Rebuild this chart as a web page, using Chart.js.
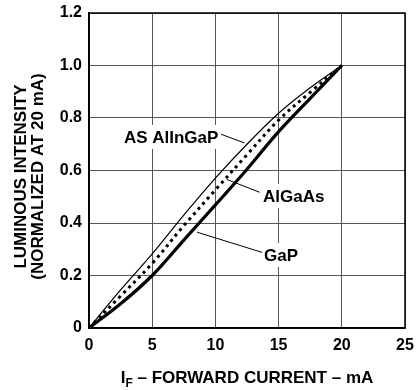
<!DOCTYPE html>
<html>
<head>
<meta charset="utf-8">
<script src="https://cdn.jsdelivr.net/npm/chart.js@4.4.1/dist/chart.umd.min.js"></script>
<style>
  html, body { margin: 0; padding: 0; background: #fff; overflow: hidden; }
  #wrap { width: 417px; height: 390px; }
</style>
</head>
<body>
<div id="wrap"><canvas id="chart"></canvas></div>
<script>
// forward current (mA) and normalized luminous intensity
const currentMa = [0, 2.5, 5, 7.5, 10, 12.5, 15, 17.5, 20];
const gapValues = [0, 0.092, 0.2, 0.335, 0.469, 0.605, 0.748, 0.875, 1.0];
const alingapValues = [0, 0.145, 0.282, 0.43, 0.571, 0.70, 0.818, 0.915, 1.0];
const algaasValues = [0, 0.122, 0.246, 0.39, 0.526, 0.66, 0.792, 0.898, 1.0];

const xTicks = [0, 5, 10, 15, 20, 25];
const yTicks = [0, 0.2, 0.4, 0.6, 0.8, 1.0, 1.2];

const FONT = '"Liberation Sans", Arial, Helvetica, sans-serif';

// callout text, where it sits and its leader line (data coords)
const callouts = [
    { text: 'AS AlInGaP', at: [6.5, 0.728], from: [10.45, 0.738], to: [12.3, 0.705] },
    { text: 'AlGaAs', at: [16.2, 0.503], from: [10.9, 0.566], to: [13.5, 0.517] },
    { text: 'GaP', at: [15.2, 0.278], from: [8.55, 0.365], to: [13.7, 0.288] }
];

function toPoints(values) {
    return currentMa.map((x, i) => ({ x: x, y: values[i] }));
}

const chartExtras = {
    id: 'chartExtras',
    beforeDatasetsDraw(chart) {
        const { ctx, chartArea: a } = chart;
        ctx.save();
        ctx.strokeStyle = '#000';
        ctx.lineWidth = 1.5;
        ctx.strokeRect(a.left, a.top, a.right - a.left, a.bottom - a.top);
        ctx.restore();
    },
    afterDatasetsDraw(chart) {
        const { ctx, scales: { x, y } } = chart;
        ctx.save();
        ctx.font = 'bold 17px ' + FONT;
        ctx.textAlign = 'center';
        ctx.textBaseline = 'middle';
        callouts.forEach(c => {
            const cx = x.getPixelForValue(c.at[0]);
            const cy = y.getPixelForValue(c.at[1]);
            const w = ctx.measureText(c.text).width + 6;
            ctx.fillStyle = '#fff';
            ctx.fillRect(cx - w / 2, cy - 12, w, 24);

            ctx.strokeStyle = '#000';
            ctx.lineWidth = 1;
            ctx.beginPath();
            ctx.moveTo(x.getPixelForValue(c.from[0]), y.getPixelForValue(c.from[1]));
            ctx.lineTo(x.getPixelForValue(c.to[0]), y.getPixelForValue(c.to[1]));
            ctx.stroke();

            ctx.fillStyle = '#000';
            ctx.fillText(c.text, cx, cy + 1);
        });
        ctx.restore();
    },
    afterDraw(chart) {
        const { ctx, chartArea: a } = chart;
        ctx.save();
        ctx.fillStyle = '#000';

        // y axis title, two rotated lines
        ctx.font = 'bold 17px ' + FONT;
        ctx.textAlign = 'center';
        ctx.textBaseline = 'middle';
        ctx.translate(a.left - 68, (a.top + a.bottom) / 2 + 6);
        ctx.rotate(-Math.PI / 2);
        ctx.fillText('LUMINOUS INTENSITY', 0, 0);
        ctx.fillText('(NORMALIZED AT 20 mA)', 0, 17.5);
        ctx.setTransform(1, 0, 0, 1, 0, 0);

        // x axis title with subscript F
        const big = 'bold 17px ' + FONT;
        const small = 'bold 12px ' + FONT;
        const rest = ' \u2013 FORWARD CURRENT \u2013 mA';
        ctx.textAlign = 'left';
        ctx.textBaseline = 'alphabetic';
        ctx.font = big;
        const wI = ctx.measureText('I').width;
        const wRest = ctx.measureText(rest).width;
        ctx.font = small;
        const wF = ctx.measureText('F').width;
        let px = (a.left + a.right) / 2 - (wI + wF + wRest) / 2;
        const base = a.bottom + 55;
        ctx.font = big;
        ctx.fillText('I', px, base);
        px += wI;
        ctx.font = small;
        ctx.fillText('F', px, base + 4);
        px += wF;
        ctx.font = big;
        ctx.fillText(rest, px, base);
        ctx.restore();
    }
};

Chart.defaults.font.family = FONT;
Chart.defaults.font.weight = 'bold';
Chart.defaults.color = '#000';

const ctx = document.getElementById('chart').getContext('2d');
const ledChart = new Chart(ctx, {
    type: 'line',
    data: {
        datasets: [
            {
                label: 'GaP',
                data: toPoints(gapValues),
                borderColor: '#000',
                borderWidth: 3.2,
                pointRadius: 0,
                tension: 0.35
            },
            {
                label: 'AS AlInGaP',
                data: toPoints(alingapValues),
                borderColor: '#000',
                borderWidth: 1.2,
                pointRadius: 0,
                tension: 0.35
            },
            {
                label: 'AlGaAs',
                data: toPoints(algaasValues),
                borderColor: '#000',
                borderWidth: 3,
                borderDash: [3, 4],
                borderCapStyle: 'butt',
                pointRadius: 0,
                tension: 0.35
            }
        ]
    },
    options: {
        responsive: true,
        maintainAspectRatio: false,
        animation: false,
        layout: {
            padding: { top: 13, right: 12, left: 0, bottom: 0 }
        },
        plugins: {
            legend: { display: false },
            tooltip: { enabled: false }
        },
        scales: {
            x: {
                type: 'linear',
                min: 0,
                max: 25,
                afterBuildTicks: s => { s.ticks = xTicks.map(v => ({ value: v })); },
                afterFit: s => { s.height = 62; s.paddingLeft = 0; s.paddingRight = 0; },
                ticks: {
                    padding: 8,
                    font: { size: 16, weight: 'bold' },
                    maxRotation: 0
                },
                grid: { color: '#555', lineWidth: 1, drawTicks: false },
                border: { color: '#000', width: 1.5 }
            },
            y: {
                min: 0,
                max: 1.2,
                afterBuildTicks: s => { s.ticks = yTicks.map(v => ({ value: v })); },
                afterFit: s => { s.width = 89; s.paddingTop = 0; s.paddingBottom = 0; },
                ticks: {
                    padding: 7,
                    font: { size: 16, weight: 'bold' },
                    callback: v => (v === 0 ? '0' : v.toFixed(1))
                },
                grid: { color: '#555', lineWidth: 1, drawTicks: false },
                border: { color: '#000', width: 1.5 }
            }
        }
    },
    plugins: [chartExtras]
});
</script>
</body>
</html>
